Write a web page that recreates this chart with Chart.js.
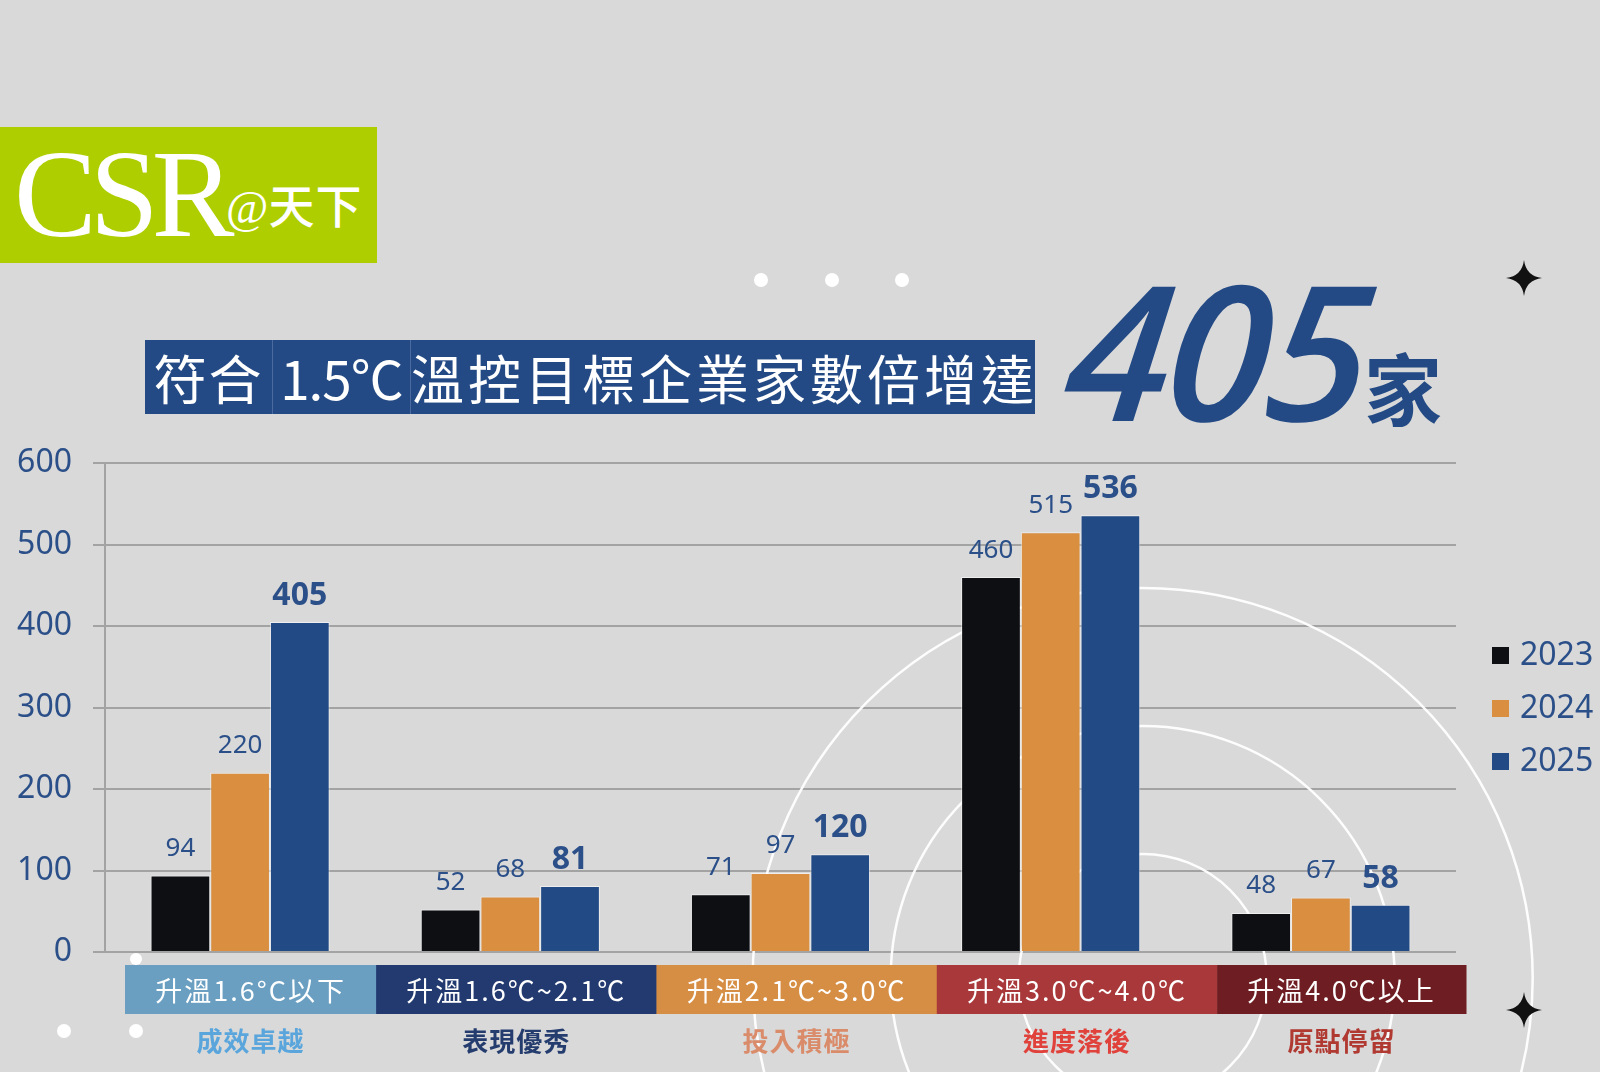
<!DOCTYPE html>
<html><head><meta charset="utf-8">
<script src="https://cdn.jsdelivr.net/npm/chart.js@4.4.1/dist/chart.umd.min.js"></script>
<style>
html,body{margin:0;padding:0;background:#d9d9d9;width:1600px;height:1072px;overflow:hidden;}
#wrap{position:relative;width:1600px;height:1072px;}
canvas#c{position:absolute;left:0;top:0;}
.abs{position:absolute;}
#logo{left:0;top:127px;width:377px;height:136px;background:#afce00;overflow:hidden;}
#csr{left:14px;top:6px;font-family:"Liberation Serif",serif;font-size:124px;line-height:124px;color:#fff;letter-spacing:-7px;white-space:nowrap;}
#at{left:226px;top:53px;font-family:"Liberation Serif",serif;font-size:46px;line-height:46px;color:#fff;white-space:nowrap;}
#at span{font-family:"Noto Sans CJK TC",sans-serif;font-weight:500;letter-spacing:1px;}
.tb{top:340px;height:74px;background:#234a85;color:#fff;font-family:"Noto Sans CJK TC",sans-serif;font-size:53px;line-height:74px;white-space:nowrap;text-align:center;box-sizing:border-box;}
#big{left:1062px;top:238px;font-family:"Open Sans","Noto Sans",sans-serif;font-weight:600;font-style:italic;font-size:188px;line-height:220px;color:#234a85;letter-spacing:-4px;white-space:nowrap;transform:skewX(-6deg);transform-origin:0 180px;}
#jia{left:1364px;top:338px;font-family:"Noto Sans CJK TC",sans-serif;font-weight:700;font-size:78px;line-height:96px;color:#234a85;}
.dot{width:14px;height:14px;border-radius:50%;background:#fff;}
</style></head>
<body><div id="wrap">
<canvas id="c" width="1600" height="1072"></canvas>
<div id="logo" class="abs"><div id="csr" class="abs">CSR</div><div id="at" class="abs">@<span>天下</span></div></div>
<div class="abs dot" style="left:754px;top:273px"></div>
<div class="abs dot" style="left:825px;top:273px"></div>
<div class="abs dot" style="left:895px;top:273px"></div>
<div class="abs dot" style="left:130px;top:953px;width:12px;height:12px"></div>
<div class="abs dot" style="left:57px;top:1024px"></div>
<div class="abs dot" style="left:129px;top:1024px"></div>
<svg class="abs" style="left:1504px;top:258px" width="40" height="40" viewBox="-20 -20 40 40"><path d="M0,-18 Q2,-2 18,0 Q2,2 0,18 Q-2,2 -18,0 Q-2,-2 0,-18Z" fill="#111"/></svg>
<svg class="abs" style="left:1504px;top:990px" width="40" height="40" viewBox="-20 -20 40 40"><path d="M0,-18 Q2,-2 18,0 Q2,2 0,18 Q-2,2 -18,0 Q-2,-2 0,-18Z" fill="#111"/></svg>
<div class="abs tb" style="left:145px;width:128px;border-right:1px solid #4a6aa0;letter-spacing:2px;">符合</div>
<div class="abs tb" style="left:273px;width:138px;border-right:1px solid #4a6aa0;letter-spacing:-1px;">1.5℃</div>
<div class="abs tb" style="left:411px;width:624px;letter-spacing:4px;text-align:left;padding-left:0px;">溫控目標企業家數倍增達</div>
<div id="big" class="abs">405</div>
<div id="jia" class="abs">家</div>
</div>
<script>
const categories = ['升溫1.6°C以下','升溫1.6℃~2.1℃','升溫2.1℃~3.0℃','升溫3.0℃~4.0℃','升溫4.0℃以上'];
const ratings = ['成效卓越','表現優秀','投入積極','進度落後','原點停留'];
const years = ['2023','2024','2025'];
const values2023 = [94, 52, 71, 460, 48];
const values2024 = [220, 68, 97, 515, 67];
const values2025 = [405, 81, 120, 536, 58];
const yTicks = [0, 100, 200, 300, 400, 500, 600];

const seriesColors = ['#0e0f13', '#d98e40', '#224a84'];
const boxColors = ['#6a9fc2', '#223a70', '#d68e45', '#a8383a', '#6e1e22'];
const ratingColors = ['#5aa6dc', '#243d6e', '#d98b6a', '#e0413a', '#b03a32'];
const labelColor = '#2b4f88';

const decor = {
  id: 'decor',
  beforeDatasetsDraw(chart) {
    const ctx = chart.ctx;
    const cx = chart.scales.x.getPixelForValue(3) + 92;
    const cy = chart.chartArea.bottom + 26;
    ctx.save();
    ctx.strokeStyle = 'rgba(255,255,255,0.95)';
    ctx.lineWidth = 2.5;
    [124, 252, 390].forEach(r => { ctx.beginPath(); ctx.arc(cx, cy, r, 0, Math.PI * 2); ctx.stroke(); });
    ctx.restore();
  }
};

const overlay = {
  id: 'overlay',
  afterDatasetsDraw(chart) {
    const ctx = chart.ctx;
    const area = chart.chartArea;
    const n = categories.length;
    ctx.save();
    // value labels
    chart.data.datasets.forEach((ds, di) => {
      const meta = chart.getDatasetMeta(di);
      meta.data.forEach((bar, i) => {
        const bold = di === 2;
        ctx.font = (bold ? '700 32px' : '400 26px') + ' "Noto Sans", sans-serif';
        ctx.fillStyle = labelColor;
        ctx.textAlign = 'center';
        ctx.textBaseline = 'bottom';
        ctx.fillText(String(ds.data[i]), bar.x, bar.y - (bold ? 10 : 14));
      });
    });
    // category boxes: contiguous, widths follow each label's text width
    const top = area.bottom + 13, h = 49;
    const boxFont = '400 27px "Noto Sans CJK TC", sans-serif';
    ctx.font = boxFont;
    ctx.letterSpacing = '2px';
    const tw = categories.map(c => ctx.measureText(c).width);
    const startX = area.left + 20, endX = area.right + 10;
    const pad = ((endX - startX) - tw.reduce((a, b) => a + b, 0)) / n;
    let l = startX;
    categories.forEach((c, i) => {
      const r = l + tw[i] + pad;
      ctx.fillStyle = boxColors[i];
      ctx.fillRect(l, top, r - l + 0.5, h);
      ctx.fillStyle = '#ffffff';
      ctx.font = boxFont;
      ctx.letterSpacing = '2px';
      ctx.textAlign = 'center';
      ctx.textBaseline = 'middle';
      ctx.fillText(c, (l + r) / 2, top + h / 2 + 1);
      ctx.letterSpacing = '1px';
      ctx.font = '700 26px "Noto Sans CJK TC", sans-serif';
      ctx.fillStyle = ratingColors[i];
      ctx.fillText(ratings[i], (l + r) / 2, top + h + 27);
      l = r;
    });
    ctx.letterSpacing = '0px';
    // legend
    chart.data.datasets.forEach((ds, di) => {
      const y = area.top + 192 + di * 53;
      const x = area.right + 36;
      ctx.fillStyle = ds.backgroundColor;
      ctx.fillRect(x, y - 8, 17, 17);
      ctx.fillStyle = labelColor;
      ctx.font = '400 32px "Noto Sans", sans-serif';
      ctx.textAlign = 'left';
      ctx.textBaseline = 'middle';
      ctx.fillText(ds.label, x + 28, y + 1);
    });
    ctx.restore();
  }
};

new Chart(document.getElementById('c'), {
  type: 'bar',
  data: {
    labels: categories,
    datasets: [
      { label: years[0], data: values2023, backgroundColor: seriesColors[0] },
      { label: years[1], data: values2024, backgroundColor: seriesColors[1] },
      { label: years[2], data: values2025, backgroundColor: seriesColors[2] }
    ]
  },
  options: {
    responsive: false,
    animation: false,
    events: [],
    layout: { padding: { left: 0, right: 144, top: 463, bottom: 120 } },
    datasets: { bar: { categoryPercentage: 0.663, barPercentage: 1.0, borderWidth: 1, borderColor: 'rgba(255,255,255,0.55)' } },
    plugins: { legend: { display: false }, tooltip: { enabled: false } },
    scales: {
      x: { display: false },
      y: {
        min: 0, max: 600,
        afterFit(s) { s.width = 105; },
        afterBuildTicks(s) { s.ticks = yTicks.map(v => ({ value: v })); },
        grid: { color: '#a3a3a3', lineWidth: 2, tickLength: 12, drawTicks: true },
        border: { display: true, color: '#a3a3a3', width: 2 },
        ticks: { padding: 21, color: labelColor, font: { family: '"Noto Sans", sans-serif', size: 32 } }
      }
    }
  },
  plugins: [decor, overlay]
});
</script>
</body></html>
